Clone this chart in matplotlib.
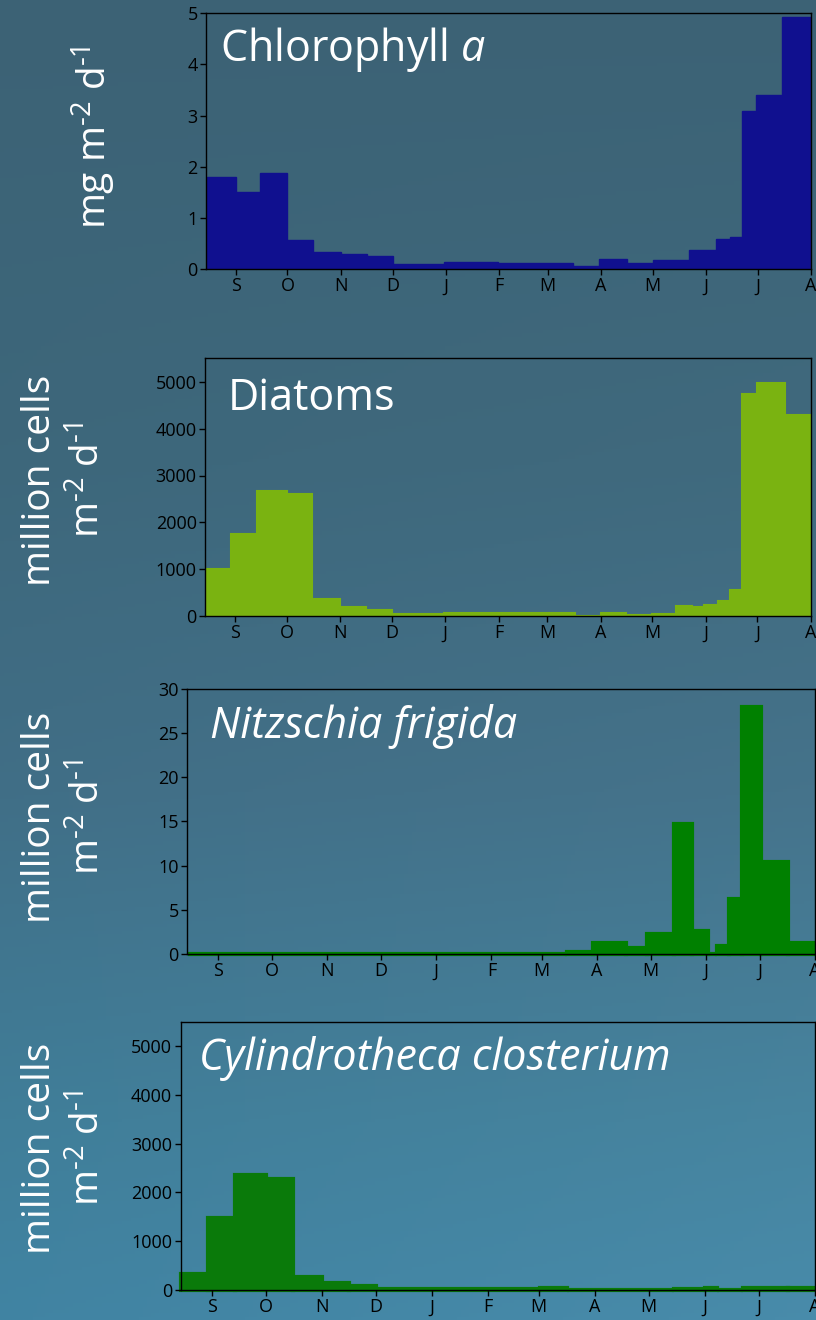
import matplotlib
matplotlib.use("Agg")
import matplotlib.pyplot as plt
import numpy as np

plt.rcParams["font.family"] = ["Open Sans", "DejaVu Sans"]
plt.rcParams["mathtext.fontset"] = "custom"
plt.rcParams["mathtext.rm"] = "Open Sans"
plt.rcParams["mathtext.it"] = "Open Sans:italic"

# Sampling intervals, days from 1 September
MONTH_TICKS = [0, 30, 61, 91, 122, 153, 181, 212, 242, 273, 303, 334]
MONTH_LABELS = ["S", "O", "N", "D", "J", "F", "M", "A", "M", "J", "J", "A"]
X_START, X_END = -17.3, 334

chla_edges = [-17, 0, 14, 30, 45, 61, 76, 91, 121, 152, 196, 211, 227, 242,
              263, 279, 287, 294, 302, 317, 334]
chla_flux = [1.80, 1.50, 1.87, 0.57, 0.33, 0.29, 0.25, 0.10, 0.13, 0.11,
             0.05, 0.19, 0.11, 0.17, 0.38, 0.59, 0.63, 3.09, 3.40, 4.92]

diatom_edges = [-17, -2, 13, 30, 45, 61, 76, 91, 121, 152, 182, 197, 212,
                227, 242, 256, 265, 272, 280, 287, 294, 303, 319, 334]
diatom_flux = [1000, 1750, 2660, 2600, 365, 185, 135, 50, 64, 71, 57, 10,
               64, 28, 50, 214, 192, 242, 313, 548, 4740, 4970, 4290]

nitzschia_edges = [-17, 195, 210, 228, 240, 255, 265, 274, 279, 286, 293,
                   304, 319, 334]
nitzschia_flux = [0.05, 0.2, 1.28, 0.64, 2.22, 14.7, 2.64, 0.05, 0.94, 6.25,
                  27.95, 10.43, 1.28]

cylindro_edges = [-17, -2, 13, 30, 45, 61, 76, 91, 182, 197, 227, 256, 273,
                  280, 294, 319, 334]
cylindro_flux = [320, 1470, 2350, 2270, 260, 136, 75, 25, 50, 10, 10, 25,
                 45, 10, 45, 35]

fig = plt.figure(figsize=(8.16, 13.2), dpi=100)

# blue-grey backdrop, darker at the top
bg = fig.add_axes([0, 0, 1, 1], zorder=-10)
stops_y = np.array([0.0, 0.35, 0.6, 0.85, 1.0])
stops_rgb = np.array([[60, 98, 117], [62, 104, 124], [66, 112, 136],
                      [66, 128, 155], [67, 134, 165]]) / 255.0
yy = np.linspace(0, 1, 400)
col = np.stack([np.interp(yy, stops_y, stops_rgb[:, k]) for k in range(3)], axis=1)
xx = np.linspace(0, 1, 200)
img = col[:, None, :] + (xx[None, :, None] - 0.3) * 0.03 * yy[:, None, None]
bg.imshow(np.clip(img, 0, 1), extent=[0, 1, 0, 1], aspect="auto", origin="upper")
bg.axis("off")

panels = [
    dict(rect=[0.2525, 0.7962, 0.7414, 0.1937], edges=chla_edges, vals=chla_flux,
         color="#10108f", lw=1.0, clip=True, ymax=5, yticks=np.arange(0, 6, 1),
         title="Chlorophyll $\\mathit{a}$", style="normal", tpos=(0.023, 0.813)),
    dict(rect=[0.2512, 0.5333, 0.7426, 0.1952], edges=diatom_edges, vals=diatom_flux,
         color="#7ab311", lw=1.5, clip=True, ymax=5500, yticks=np.arange(0, 6000, 1000),
         title="Diatoms", style="normal", tpos=(0.037, 0.80)),
    dict(rect=[0.2292, 0.2773, 0.7696, 0.2010], edges=nitzschia_edges, vals=nitzschia_flux,
         color="#008000", lw=3.0, clip=False, ymax=30, yticks=np.arange(0, 35, 5),
         title="Nitzschia frigida", style="italic", tpos=(0.036, 0.813)),
    dict(rect=[0.2213, 0.0227, 0.7772, 0.2033], edges=cylindro_edges, vals=cylindro_flux,
         color="#0a7a0a", lw=3.0, clip=False, ymax=5500, yticks=np.arange(0, 6000, 1000),
         title="Cylindrotheca closterium", style="italic", tpos=(0.029, 0.82)),
]

for p in panels:
    ax = fig.add_axes(p["rect"])
    ax.set_facecolor("none")
    edges = np.array(p["edges"], dtype=float)
    bars = ax.bar(edges[:-1], p["vals"], width=np.diff(edges), align="edge",
                  color=p["color"], edgecolor=p["color"], linewidth=p["lw"])
    for b in bars:
        b.set_clip_on(p["clip"])
    ax.set_xlim(X_START, X_END)
    ax.set_ylim(0, p["ymax"])
    ax.set_xticks(MONTH_TICKS)
    ax.set_xticklabels(MONTH_LABELS)
    ax.set_yticks(p["yticks"])
    ax.tick_params(direction="out", length=4, width=1, colors="black",
                   labelsize=13, pad=2)
    for s in ax.spines.values():
        s.set_color("black")
        s.set_linewidth(1)
    ax.text(p["tpos"][0], p["tpos"][1], p["title"], transform=ax.transAxes,
            fontsize=31, color="white", style=p["style"], va="baseline", ha="left")

# y-axis units
unit = "m$^{\\text{-2}}$ d$^{\\text{-1}}$"
fig.text(94 / 816, 1 - 137 / 1320, "mg " + unit, rotation=90,
         ha="center", va="center", color="white", fontsize=28)
for yc in [480, 817, 1148]:
    fig.text(40 / 816, 1 - yc / 1320, "million cells", rotation=90,
             ha="center", va="center", color="white", fontsize=28)
    fig.text(89 / 816, 1 - yc / 1320, unit, rotation=90,
             ha="center", va="center", color="white", fontsize=28)

fig.savefig("out.png", dpi=100)
